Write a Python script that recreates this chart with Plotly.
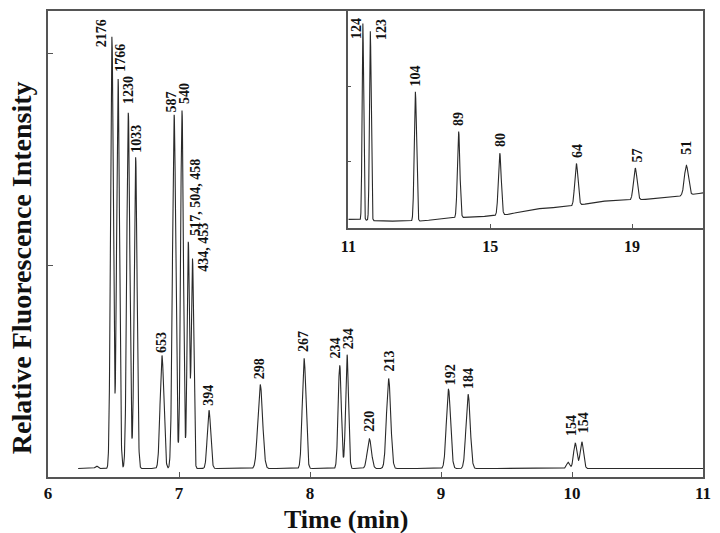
import numpy as np
import plotly.graph_objects as go

# ---------------- main electropherogram (6-11 min) ----------------
main_labels = ["2176", "1766", "1230", "1033", "653", "587", "540", "517, 504, 458",
               "434, 453", "394", "298", "267", "234", "234", "220", "213",
               "192", "184", "154", "154"]
main_times = [6.488, 6.535, 6.613, 6.669, 6.870, 6.963, 7.023, 7.071,
              7.103, 7.229, 7.620, 7.955, 8.227, 8.283, 8.453, 8.600,
              9.057, 9.207, 10.025, 10.075]
main_heights = [2.08, 1.88, 1.72, 1.51, 0.574, 1.71, 1.73, 1.11,
                1.03, 0.315, 0.437, 0.56, 0.527, 0.578, 0.18, 0.465,
                0.414, 0.39, 0.16, 0.166]
main_sigmas = [0.0105, 0.011, 0.0115, 0.011, 0.014, 0.0125, 0.0108, 0.009,
               0.009, 0.013, 0.018, 0.014, 0.012, 0.011, 0.016, 0.016,
               0.016, 0.016, 0.013, 0.013]
main_baseline = 0.04
main_small_times = [6.37, 9.97]
main_small_heights = [0.012, 0.03]
main_small_sigmas = [0.01, 0.012]
main_tick_vals = [6, 7, 8, 9, 10, 11]

# ---------------- inset electropherogram (11-21 min) ----------------
inset_labels = ["124", "123", "104", "89", "80", "64", "57", "51"]
inset_times = [11.41, 11.62, 12.89, 14.11, 15.27, 17.43, 19.09, 20.53]
inset_heights = [0.942, 0.907, 0.628, 0.445, 0.345, 0.297, 0.276, 0.289]
inset_sigmas = [0.022, 0.024, 0.032, 0.035, 0.04, 0.045, 0.05, 0.055]
inset_base_t = [11.0, 12.0, 13.0, 14.0, 15.0, 15.5, 16.2, 17.3, 18.2, 19.0, 20.0, 21.0]
inset_base_v = [0.040, 0.032, 0.032, 0.047, 0.055, 0.063, 0.087, 0.101, 0.124, 0.128, 0.139, 0.162]
inset_tick_vals = [11, 15, 19]

# label offsets (px): horizontal shift, vertical shift
main_dx = [-11, 3, 0, 1, 0, -3, 2, 7, 11, 0, 0, 0, -4, 1, 0, 0, 2, 1, -4, 2]
main_dy = [-12, 6, 8, 3, 2, 1, 5, 5, -14, 3, 4, 5, 6, 4, 6, 6, 3, 4, 6, 8]
inset_dx = [-7, 11, 0, 0, 0, 1, 2, 0]
inset_dy = [-16, -10, 4, 4, 5, 5, 5, 10]

t1 = np.linspace(6.23, 11.0, 5000)
sig1 = np.full_like(t1, main_baseline)
for c, h, s in zip(main_times, main_heights, main_sigmas):
    sig1 += (h - main_baseline) * np.exp(-(t1 - c) ** 2 / (2 * s ** 2))
for c, h, s in zip(main_small_times, main_small_heights, main_small_sigmas):
    sig1 += h * np.exp(-(t1 - c) ** 2 / (2 * s ** 2))

t2 = np.linspace(11.0, 21.0, 5000)
base2 = np.interp(t2, inset_base_t, inset_base_v)
sig2 = base2.copy()
for c, h, s in zip(inset_times, inset_heights, inset_sigmas):
    b = np.interp(c, inset_base_t, inset_base_v)
    sig2 += (h - b) * np.exp(-(t2 - c) ** 2 / (2 * s ** 2))

SERIF = "Liberation Serif, Times New Roman, serif"
LINE = "#2a2a2a"
FRAME = "#555555"
TXT = "#111111"

fig = go.Figure()
fig.add_trace(go.Scatter(x=t1, y=sig1, mode="lines",
                         line=dict(color=LINE, width=1.1), xaxis="x", yaxis="y",
                         showlegend=False, hoverinfo="skip"))
fig.add_trace(go.Scatter(x=t2, y=sig2, mode="lines",
                         line=dict(color=LINE, width=1.1), xaxis="x2", yaxis="y2",
                         showlegend=False, hoverinfo="skip"))

annotations = []
for lab, c, h, dx, dy in zip(main_labels, main_times, main_heights, main_dx, main_dy):
    annotations.append(dict(x=c, y=h, xref="x", yref="y", text="<b>%s</b>" % lab, textangle=-90,
                            showarrow=False, xanchor="center", yanchor="bottom",
                            xshift=dx, yshift=dy,
                            font=dict(family=SERIF, size=14, color=TXT), borderpad=0))
for lab, c, h, dx, dy in zip(inset_labels, inset_times, inset_heights, inset_dx, inset_dy):
    annotations.append(dict(x=c, y=h, xref="x2", yref="y2", text="<b>%s</b>" % lab, textangle=-90,
                            showarrow=False, xanchor="center", yanchor="bottom",
                            xshift=dx, yshift=dy,
                            font=dict(family=SERIF, size=14, color=TXT), borderpad=0))

L, R, T, B = 48, 9, 9, 56
PW, PH = 720 - L - R, 533 - T - B

annotations.append(dict(x=(350 - L) / PW, y=(533 - B - 520) / PH, xref="paper", yref="paper",
                        xanchor="center", yanchor="middle",
                        text="<b>Time (min)</b>",
                        showarrow=False, font=dict(family=SERIF, size=26, color=TXT)))
annotations.append(dict(x=(22 - L) / PW, y=(533 - B - 267) / PH, xref="paper", yref="paper",
                        xanchor="center", yanchor="middle",
                        text="<b>Relative Fluorescence Intensity</b>", textangle=-90,
                        showarrow=False, font=dict(family=SERIF, size=28, color=TXT)))

inset_x0 = (352 - L) / PW
inset_y0 = (533 - B - 227) / PH

fig.update_layout(
    width=720, height=533,
    margin=dict(l=L, r=R, t=T, b=B),
    paper_bgcolor="white", plot_bgcolor="white",
    showlegend=False,
    annotations=annotations,
    xaxis=dict(domain=[0, 1], range=[6, 11], tickvals=main_tick_vals,
               ticktext=["<b>%d</b>" % v for v in main_tick_vals],
               ticks="inside", ticklen=5, tickcolor=FRAME, showline=True, linecolor=FRAME,
               linewidth=1.5, mirror=True, showgrid=False, zeroline=False,
               tickfont=dict(family=SERIF, size=17, color=TXT),
               ticklabelstandoff=0),
    yaxis=dict(domain=[0, 1], range=[0, 2.2], tickvals=[1, 2], showticklabels=False,
               ticks="inside", ticklen=5, tickcolor=FRAME, showline=True, linecolor=FRAME,
               linewidth=1.5, mirror=True, showgrid=False, zeroline=False),
    xaxis2=dict(domain=[inset_x0, 1], range=[11, 21], tickvals=inset_tick_vals,
                ticktext=["<b>%d</b>" % v for v in inset_tick_vals],
                anchor="y2", ticks="inside", ticklen=4, tickcolor=FRAME,
                showline=True, linecolor=FRAME, linewidth=1.5, mirror=True,
                showgrid=False, zeroline=False,
                tickfont=dict(family=SERIF, size=16, color=TXT),
                ticklabelstandoff=3),
    yaxis2=dict(domain=[inset_y0, 1], range=[0, 1], tickvals=[0.307, 0.651],
                anchor="x2", showticklabels=False, ticks="inside", ticklen=3,
                tickcolor=FRAME, showline=True, linecolor=FRAME, linewidth=1.5,
                mirror=True, showgrid=False, zeroline=False),
)

fig.write_html("out.html")
